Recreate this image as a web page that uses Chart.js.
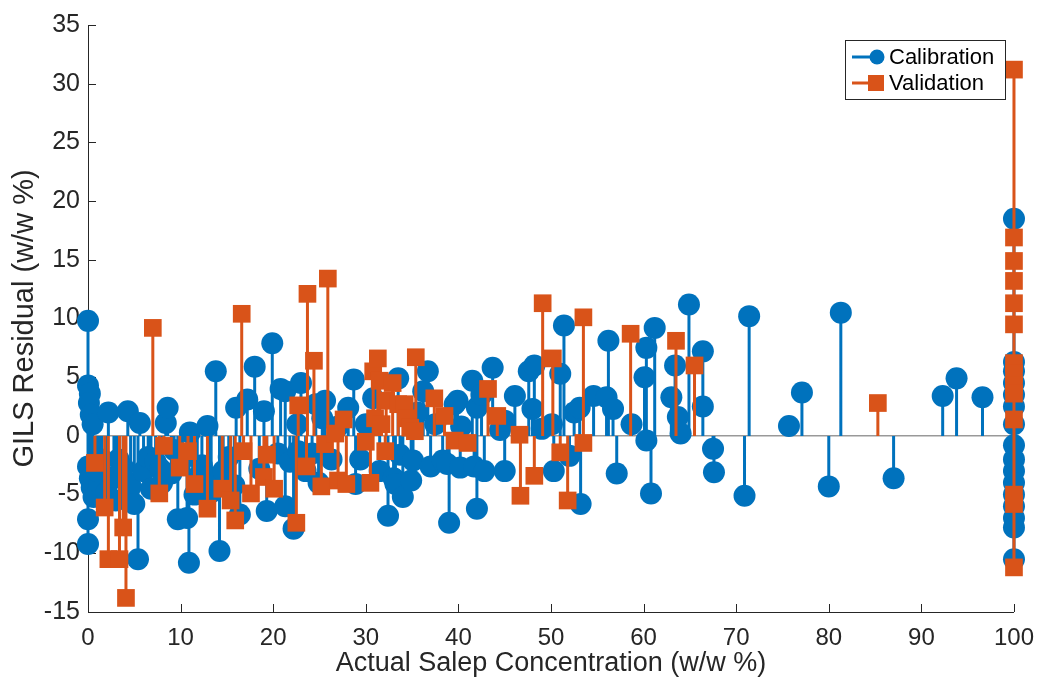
<!DOCTYPE html>
<html>
<head>
<meta charset="utf-8">
<script src="https://cdn.jsdelivr.net/npm/chart.js@4.4.0/dist/chart.umd.min.js"></script>
<style>
  html, body { margin: 0; padding: 0; background: #fff; }
</style>
</head>
<body>
<canvas id="myChart" width="1046" height="682"></canvas>
<script>
// tick labels
const xTicks = [0, 10, 20, 30, 40, 50, 60, 70, 80, 90, 100];
const yTicks = [-15, -10, -5, 0, 5, 10, 15, 20, 25, 30, 35];

// Calibration residuals
const calX = [
  0, 0, 0.2, 0.1, 0.3, 0.5, 0, 0.2, 0.4, 0.6, 0, 0, 1.2, 1.5, 1.0, 2.0, 3.0, 4.0,
  2.2, 2.8, 3.3, 3.8, 4.3, 4.6, 5.0, 5.4, 5.6, 6.0, 6.5, 6.8, 7.3, 7.8, 8.0, 8.4, 8.6,
  9.0, 9.3, 9.7, 10.2, 10.7, 10.9, 11.0, 11.5, 11.8, 12.3, 12.9, 13.0, 13.3, 13.8, 14.2,
  14.6, 15.2, 15.8, 16.0, 16.4, 17.2, 18.0, 18.5, 19.0, 19.3, 19.9, 20.5, 20.8, 21.3, 21.3,
  21.8, 22.2, 22.6, 22.7, 23.0, 23.5, 24.2, 24.6, 24.9, 25.3, 25.6, 26.3, 27.0, 28.1, 28.7,
  28.9, 29.4, 30.0, 30.8, 31.5, 32.4, 33.0, 33.2, 33.5, 33.7, 34.0, 34.9, 35.1, 35.6, 36.2,
  36.7, 37.0, 37.5, 38.3, 38.8, 39.0, 39.6, 39.9, 40.2, 40.3, 41.5, 41.7, 42.0, 42.0, 42.5,
  42.8, 43.7, 44.5, 45.0, 45.0, 46.1, 47.6, 48.0, 48.2, 49.0, 50.1, 50.3, 51.0, 51.4, 52.0,
  52.5, 53.1, 53.2, 54.6, 56.0, 56.2, 56.7, 57.1, 58.7, 60.1, 60.3, 60.3, 60.8, 61.2, 63.0,
  63.4, 63.7, 64.0, 64.9, 66.4, 66.4, 67.5, 67.6, 70.9, 71.4, 75.7, 77.1, 80.0, 81.3, 87.0,
  92.3, 93.8, 96.6,
  100, 100, 100, 100, 100, 100, 100, 100, 100, 100, 100, 100, 100, 100, 100, 100
];
const calY = [
  9.8, 4.3, 3.6, 2.8, 1.8, 1.0, -2.6, -3.6, -4.4, -5.2, -7.1, -9.2, -4.0, -2.0, -3.0, -4.8, -5.5, -3.8,
  2.0, -3.5, -2.0, -2.7, 2.1, -4.3, -5.8, -10.5, 1.1, -3.0, -1.8, -4.5, -2.2, -2.8, -4.0, 1.1, 2.4,
  -3.2, -1.2, -7.1, -2.0, -7.0, -10.8, 0.3, -5.0, -3.5, -2.5, 0.85, -3.5, -4.8, 5.5, -9.8,
  -3.0, -1.8, -4.2, 2.4, -6.7, 3.1, 5.9, -2.8, 2.1, -6.4, 7.9, -1.5, 4.0, 3.8, -6.0,
  -2.2, -7.9, 1.0, -1.3, 4.5, -3.0, -1.5, 2.7, -4.0, 1.5, 3.0, -2.0, 0.8, 2.4, 4.8,
  -4.1, -2.0, 1.0, 3.2, -3.0, -6.8, -3.6, -4.1, 4.9, -1.6, -5.2, -3.8, -2.1, 2.0, 3.8,
  5.5, -2.6, 1.0, -2.1, -2.4, -7.4, 2.7, 3.0, -2.7, 0.8, 4.7, -2.6, 2.4, -6.2, 3.5,
  -3.0, 5.8, 0.5, 1.3, -3.0, 3.4, 5.5, 2.3, 6.0, 0.6, 1.0, -3.0, 5.3, 9.4, -1.7,
  2.0, 2.4, -5.8, 3.4, 3.3, 8.1, 2.3, -3.2, 1.0, 5.0, 7.5, -0.4, -4.9, 9.2, 3.3,
  6.0, 1.6, 0.2, 11.2, 7.2, 2.5, -1.1, -3.1, -5.1, 10.2, 0.85, 3.7, -4.3, 10.5, -3.6,
  3.4, 4.9, 3.3,
  18.5, 6.3, 5.5, 4.5, 3.5, 2.5, 1.0, -0.8, -2.0, -3.0, -4.0, -5.0, -6.0, -7.0, -7.8, -10.5
];

// Validation residuals
const valX = [
  0.75, 1.8, 2.2, 3.4, 3.8, 4.1, 7.0, 7.7, 8.2, 9.9, 10.8, 11.5, 12.9, 14.5, 15.4, 15.9,
  16.6, 16.8, 17.6, 19.0, 19.3, 20.1, 22.5, 22.7, 23.6, 23.7, 24.4, 25.2, 25.6, 25.9, 26.7,
  27.0, 27.6, 27.9, 30.0, 30.5, 30.8, 31.0, 31.3, 31.5, 31.7, 32.1, 32.2, 32.9, 33.5, 34.2,
  34.5, 34.8, 35.3, 35.4, 37.4, 38.5, 39.6, 41.0, 43.2, 44.2, 46.6, 46.7, 48.2, 49.1, 50.2,
  51.0, 51.8, 53.5, 53.5, 58.6, 63.5, 65.5, 85.3,
  100, 100, 100, 100, 100, 100, 100, 100, 100, 100, 100, 100, 100, 100
];
const valY = [
  -2.3, -6.1, -10.5, -10.5, -7.8, -13.8, 9.2, -4.9, -0.85, -2.7, -1.3, -4.1, -6.2, -4.5, -5.5, -7.2,
  10.4, -1.3, -4.9, -3.5, -1.6, -4.5, -7.4, 2.6, -2.6, 12.1, 6.4, -4.3, -0.7, 13.4, 0.2,
  -3.8, 1.4, -4.1, -0.5, -4.0, 5.5, 1.5, 6.6, 4.7, 1.0, -1.3, 3.0, 4.5, 2.7, 2.7,
  1.5, 0.7, 0.4, 6.7, 3.2, 1.7, -0.4, -0.6, 4.0, 1.7, 0.1, -5.1, -3.4, 11.3, 6.6,
  -1.4, -5.5, 10.1, -0.6, 8.7, 8.1, 6.0, 2.8,
  31.2, 16.9, 14.9, 13.2, 11.3, 9.5, 6.2, 5.3, 4.3, 3.6, 1.4, -5.0, -5.8, -11.2
];

const blue = '#0072BD';
const orange = '#D95319';
const ink = '#262626';
const fontFamily = '"Liberation Sans", Arial, Helvetica, sans-serif';

function stemPoints(xs, ys) {
  const pts = [];
  xs.forEach((x, i) => {
    pts.push({x: x, y: 0}, {x: x, y: ys[i]}, {x: x, y: null});
  });
  return pts;
}
function markerPoints(xs, ys) {
  return xs.map((x, i) => ({x: x, y: ys[i]}));
}

// MATLAB style ticks pointing into the plot
const innerTicks = {
  id: 'innerTicks',
  beforeDatasetsDraw(chart) {
    const {ctx, chartArea, scales} = chart;
    ctx.save();
    ctx.strokeStyle = ink;
    ctx.lineWidth = 1;
    ctx.beginPath();
    xTicks.forEach(v => {
      const px = Math.round(scales.x.getPixelForValue(v)) + 0.5;
      ctx.moveTo(px, chartArea.bottom);
      ctx.lineTo(px, chartArea.bottom - 8);
    });
    yTicks.forEach(v => {
      const py = Math.round(scales.y.getPixelForValue(v)) + 0.5;
      ctx.moveTo(chartArea.left, py);
      ctx.lineTo(chartArea.left + 8, py);
    });
    ctx.stroke();
    ctx.restore();
  }
};

// legend box with line + marker, like the original figure
const stemLegend = {
  id: 'stemLegend',
  afterDraw(chart) {
    const ctx = chart.ctx;
    const box = {x: 845.5, y: 40.5, w: 160, h: 59};
    ctx.save();
    ctx.fillStyle = '#fff';
    ctx.fillRect(box.x, box.y, box.w, box.h);
    ctx.strokeStyle = ink;
    ctx.lineWidth = 1;
    ctx.strokeRect(box.x, box.y, box.w, box.h);
    const rows = [
      {label: 'Calibration', color: blue, shape: 'circle', y: 57},
      {label: 'Validation', color: orange, shape: 'rect', y: 83}
    ];
    ctx.font = '22px ' + fontFamily;
    ctx.textBaseline = 'middle';
    rows.forEach(r => {
      ctx.strokeStyle = r.color;
      ctx.lineWidth = 3;
      ctx.beginPath();
      ctx.moveTo(852, r.y);
      ctx.lineTo(876, r.y);
      ctx.stroke();
      ctx.fillStyle = r.color;
      if (r.shape === 'circle') {
        ctx.beginPath();
        ctx.arc(877, r.y, 7.5, 0, Math.PI * 2);
        ctx.fill();
      } else {
        ctx.fillRect(868, r.y - 8, 16, 16);
      }
      ctx.fillStyle = '#000';
      ctx.fillText(r.label, 889, r.y + 1);
    });
    ctx.restore();
  }
};

new Chart(document.getElementById('myChart'), {
  type: 'scatter',
  data: {
    datasets: [
      {
        label: 'Calibration stems',
        data: stemPoints(calX, calY),
        showLine: true,
        spanGaps: false,
        borderColor: blue,
        borderWidth: 3,
        pointRadius: 0,
        clip: false,
        order: 4
      },
      {
        label: 'Calibration',
        data: markerPoints(calX, calY),
        pointStyle: 'circle',
        pointRadius: 11,
        backgroundColor: blue,
        borderColor: blue,
        borderWidth: 0,
        clip: false,
        order: 3
      },
      {
        label: 'Validation stems',
        data: stemPoints(valX, valY),
        showLine: true,
        spanGaps: false,
        borderColor: orange,
        borderWidth: 3,
        pointRadius: 0,
        clip: false,
        order: 2
      },
      {
        label: 'Validation',
        data: markerPoints(valX, valY),
        pointStyle: 'rect',
        pointRadius: 12.5,
        backgroundColor: orange,
        borderColor: orange,
        borderWidth: 0,
        clip: false,
        order: 1
      }
    ]
  },
  options: {
    responsive: false,
    animation: false,
    events: [],
    layout: { padding: { top: 25, right: 26, left: 0, bottom: 0 } },
    plugins: {
      legend: { display: false },
      tooltip: { enabled: false }
    },
    scales: {
      x: {
        type: 'linear',
        min: 0,
        max: 100,
        afterBuildTicks: s => { s.ticks = xTicks.map(v => ({value: v})); },
        afterFit: s => { s.height = 70; },
        grid: { display: false, drawTicks: false },
        border: { display: true, color: ink, width: 1 },
        ticks: {
          color: ink,
          font: { family: fontFamily, size: 24 },
          padding: 12,
          maxRotation: 0
        },
        title: {
          display: true,
          text: 'Actual Salep Concentration (w/w %)',
          color: ink,
          font: { family: fontFamily, size: 27 },
          padding: { top: 0, bottom: 2 }
        }
      },
      y: {
        type: 'linear',
        min: -15,
        max: 35,
        afterBuildTicks: s => { s.ticks = yTicks.map(v => ({value: v})); },
        afterFit: s => { s.width = 88; },
        grid: {
          drawTicks: false,
          lineWidth: 1.5,
          color: c => (c.tick && c.tick.value === 0) ? '#999999' : 'rgba(0,0,0,0)'
        },
        border: { display: true, color: ink, width: 1 },
        ticks: {
          color: ink,
          font: { family: fontFamily, size: 25 },
          padding: 8
        },
        title: {
          display: true,
          text: 'GILS Residual (w/w %)',
          color: ink,
          font: { family: fontFamily, size: 29 },
          padding: { top: 8, bottom: 0 }
        }
      }
    }
  },
  plugins: [innerTicks, stemLegend]
});
</script>
</body>
</html>
